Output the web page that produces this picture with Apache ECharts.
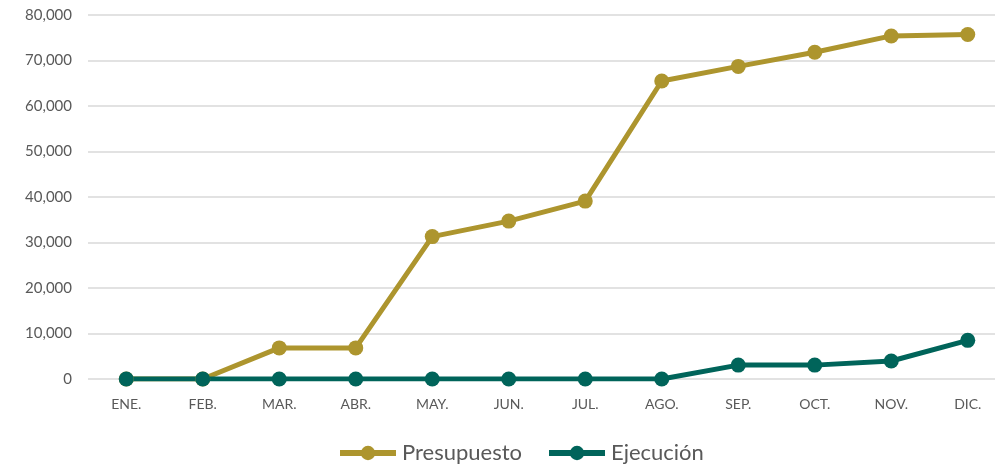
<!DOCTYPE html>
<html>
<head>
<meta charset="utf-8">
<script src="https://cdn.jsdelivr.net/npm/echarts@6/dist/echarts.min.js"></script>
<style>
html,body{margin:0;padding:0;background:#fff;overflow:hidden;width:995px;height:468px;}
#c{width:1006px;height:468px;}
</style>
</head>
<body>
<div id="c"></div>
<script>
const categories = ['ENE.','FEB.','MAR.','ABR.','MAY.','JUN.','JUL.','AGO.','SEP.','OCT.','NOV.','DIC.'];
const presupuesto = [0, 0, 6830, 6830, 31300, 34700, 39100, 65500, 68700, 71800, 75400, 75700];
const ejecucion = [0, 0, 0, 0, 0, 0, 0, 0, 3050, 3050, 3950, 8500];
const yTicks = { min: 0, max: 80000, interval: 10000 };

const font = 'Lato, "Open Sans", sans-serif';
const chart = echarts.init(document.getElementById('c'));
chart.setOption({
  animation: false,
  grid: { left: 88, top: 15, right: 0, bottom: 89, containLabel: false },
  legend: {
    top: 442, left: 337, padding: 0,
    itemWidth: 56, itemHeight: 18, itemGap: 24,
    textStyle: { fontFamily: font, fontSize: 22, color: '#595959', padding: [0, 0, 0, 1] },
    lineStyle: { width: 6 },
    data: ['Presupuesto', 'Ejecución']
  },
  xAxis: {
    type: 'category', data: categories, boundaryGap: true,
    axisLine: { show: false }, axisTick: { show: false },
    axisLabel: { fontFamily: font, fontSize: 14, color: '#595959', margin: 18 }
  },
  yAxis: {
    type: 'value', min: yTicks.min, max: yTicks.max, interval: yTicks.interval,
    axisLine: { show: false }, axisTick: { show: false },
    splitLine: { lineStyle: { color: '#d9d9d9', width: 1.5 } },
    axisLabel: { fontFamily: font, fontSize: 15, color: '#595959', margin: 16,
      formatter: v => v.toLocaleString('en-US') }
  },
  series: [
    { name: 'Presupuesto', type: 'line', data: presupuesto,
      symbol: 'circle', symbolSize: 15,
      lineStyle: { color: '#AD952E', width: 5 }, itemStyle: { color: '#AD952E' } },
    { name: 'Ejecución', type: 'line', data: ejecucion,
      symbol: 'circle', symbolSize: 15,
      lineStyle: { color: '#00645A', width: 5 }, itemStyle: { color: '#00645A' } }
  ]
});
</script>
</body>
</html>
